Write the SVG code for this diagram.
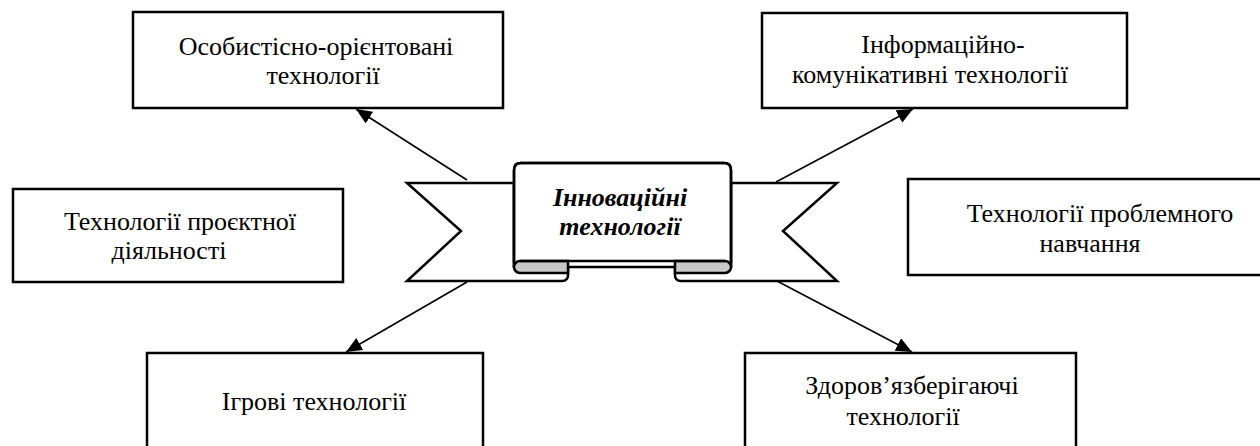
<svg xmlns="http://www.w3.org/2000/svg" width="1260" height="446" viewBox="0 0 1260 446">
<style>
.box{fill:#fff;stroke:#000;stroke-width:2.5}
.t{font-family:"Liberation Serif","Times New Roman",serif;font-size:26px;fill:#000;text-anchor:middle}
.tc{font-family:"Liberation Serif","Times New Roman",serif;font-size:26px;font-weight:bold;font-style:italic;fill:#000;text-anchor:middle}
.rb{fill:#fff;stroke:#000;stroke-width:2.5;stroke-linejoin:miter}
.fold{fill:#c8c8c8;stroke:#000;stroke-width:2.5}
.ln{fill:none;stroke:#000;stroke-width:2.5}
.con{fill:none;stroke:#000;stroke-width:1.6;marker-end:url(#arr)}
</style>
<defs>
<marker id="arr" markerUnits="userSpaceOnUse" markerWidth="16" markerHeight="14" viewBox="0 0 16 14" refX="16" refY="7" orient="auto">
<path d="M0,0 L16,7 L0,14 Z" fill="#000"/>
</marker>
</defs>
<rect width="1260" height="446" fill="#fff"/>

<g id="node-osobystisno">
<rect class="box" x="133" y="12" width="370" height="96"/>
<text class="t" x="316" y="55">Особистісно-орієнтовані</text>
<text class="t" x="323" y="84">технології</text>
</g>

<g id="node-informatsiino">
<rect class="box" x="762" y="13" width="365" height="95"/>
<text class="t" x="943" y="53">Інформаційно-</text>
<text class="t" x="930" y="83">комунікативні технології</text>
</g>

<g id="node-proektnoi">
<rect class="box" x="13" y="189" width="330" height="93"/>
<text class="t" x="180" y="230">Технології проєктної</text>
<text class="t" x="169" y="259">діяльності</text>
</g>

<g id="node-problemnogo">
<rect class="box" x="908" y="179" width="360" height="96"/>
<text class="t" x="1100" y="222">Технології проблемного</text>
<text class="t" x="1090" y="252">навчання</text>
</g>

<g id="node-igrovi">
<rect class="box" x="147" y="353" width="336" height="110"/>
<text class="t" x="314" y="410">Ігрові технології</text>
</g>

<g id="node-zdorov">
<rect class="box" x="745" y="353" width="331" height="110"/>
<text class="t" x="912" y="394">Здоров’язберігаючі</text>
<text class="t" x="903" y="425">технології</text>
</g>

<g id="connectors">
<line class="con" x1="467" y1="180" x2="356" y2="109"/>
<line class="con" x1="776" y1="182" x2="913" y2="109"/>
<line class="con" x1="467" y1="282" x2="346" y2="352"/>
<line class="con" x1="777" y1="281" x2="912" y2="352"/>
</g>

<g id="node-innovatsiini">
<path class="rb" d="M514,183 H407 L461,231 L407,281 H562 Q568,281 568,275 V261 H514 Z"/>
<path class="rb" d="M731,183 H837 L783,231 L837,281 H681 Q675,281 675,275 V261 H731 Z"/>
<path class="rb" d="M514,267 V170 Q514,163 521,163 H724 Q731,163 731,170 V267 Z" stroke="none"/>
<path class="ln" d="M514,267 V170 Q514,163 521,163 H724 Q731,163 731,170 V267"/>
<path class="fold" d="M568,261 H520 A6,6 0 0 0 520,273 H568 Z"/>
<path class="fold" d="M675,261 H725 A6,6 0 0 1 725,273 H675 Z"/>
<line class="ln" x1="520" y1="261" x2="725" y2="261"/>
<text class="tc" x="620" y="206">Інноваційні</text>
<text class="tc" x="620" y="235">технології</text>
</g>
</svg>
